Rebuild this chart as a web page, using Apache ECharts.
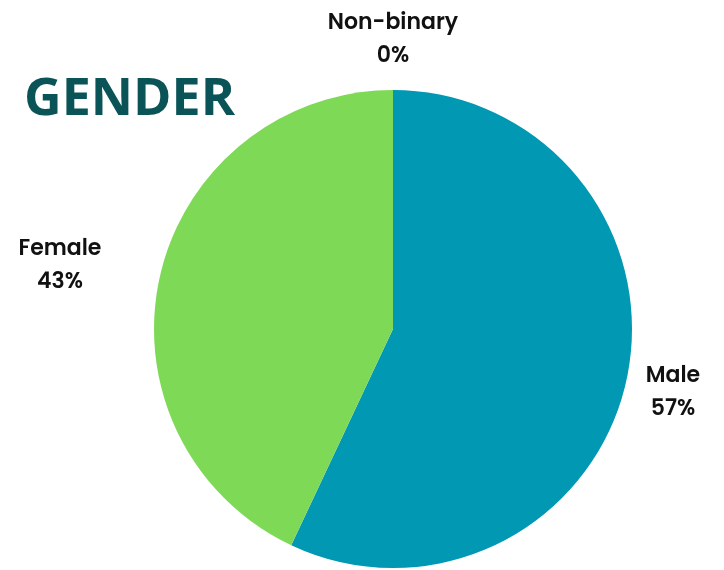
<!DOCTYPE html>
<html><head><meta charset="utf-8">
<script src="https://cdn.jsdelivr.net/npm/echarts@6/dist/echarts.min.js"></script>
<style>html,body{margin:0;padding:0;background:#fff}#c{width:724px;height:570px}</style>
</head><body><div id="c"></div>
<script>
const titleText = 'GENDER';
const categories = ['Male', 'Female', 'Non-binary'];
const values = [57, 43, 0];
const colors = ['#0098B2', '#7ED957', '#cccccc'];
const labelPos = {
  'Male': [673, 393],
  'Female': [60, 266],
  'Non-binary': [393, 40]
};
const chart = echarts.init(document.getElementById('c'));
chart.setOption({
  animation: false,
  title: {
    text: titleText, left: 19, top: 69,
    textStyle: { fontFamily: 'Open Sans', fontWeight: 'bold', fontSize: 52, color: '#0A5458' }
  },
  series: [{
    type: 'pie',
    center: [393, 329],
    radius: 239,
    startAngle: 90,
    clockwise: true,
    stillShowZeroSum: true,
    minShowLabelAngle: 0,
    data: categories.map((c, i) => ({ name: c, value: values[i], itemStyle: { color: colors[i] } })),
    label: {
      show: true,
      position: 'outside',
      formatter: p => p.name + '\n' + p.value + '%',
      fontFamily: 'Poppins, "Open Sans", sans-serif',
      fontWeight: 600,
      fontSize: 22,
      lineHeight: 33,
      color: '#111',
      align: 'center',
      overflow: 'none',
      width: 200
    },
    labelLine: { show: false },
    labelLayout: function (params) {
      const name = categories[params.dataIndex];
      const p = labelPos[name];
      return { x: p[0], y: p[1], align: 'center', verticalAlign: 'middle' };
    },
    emphasis: { disabled: true }
  }]
});
</script></body></html>
